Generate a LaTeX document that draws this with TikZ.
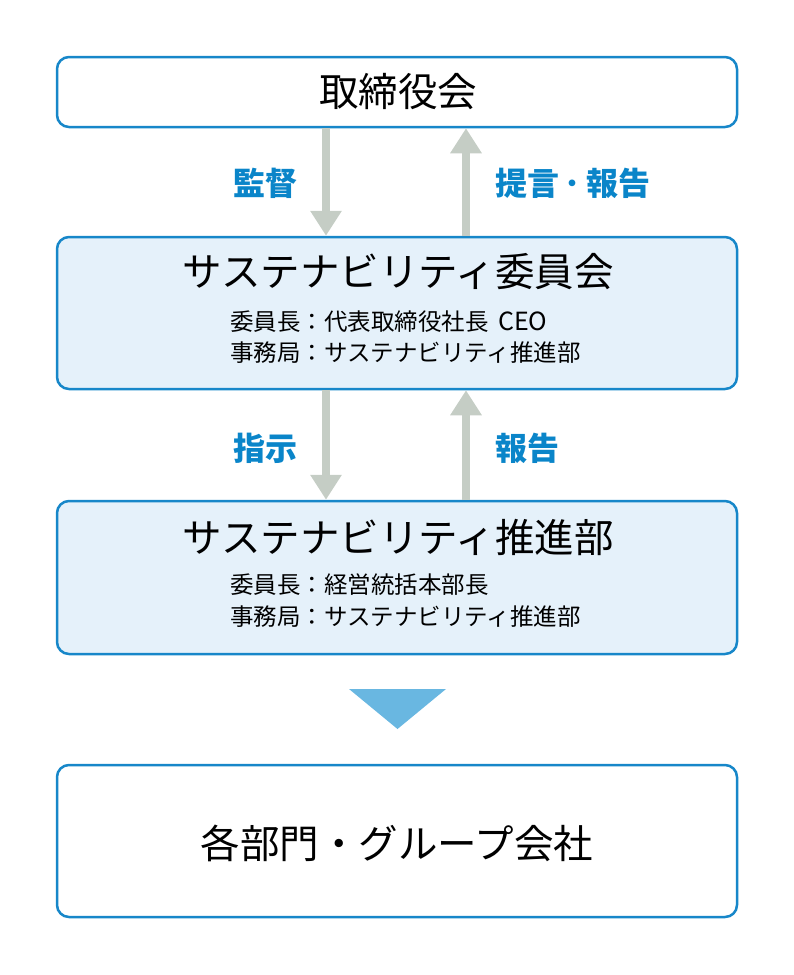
\documentclass[tikz,border=0pt]{standalone}
\usepackage{fontspec}
\setmainfont{Noto Sans CJK JP}
\usetikzlibrary{arrows.meta,positioning}
\definecolor{frameblue}{HTML}{1787C9}
\definecolor{paleblue}{HTML}{E5F1FA}
\definecolor{arrowgray}{HTML}{C5CDC5}
\definecolor{labelblue}{HTML}{0A85C9}
\definecolor{triblue}{HTML}{69B7E1}
\begin{document}
\begin{tikzpicture}[x=1pt,y=-1pt,
  box/.style={draw=frameblue,line width=2.5pt,rounded corners=12pt,minimum width=680pt,inner sep=0pt},
  title/.style={font=\fontsize{39.5}{41}\selectfont,inner sep=0pt},
  member/.style={font=\fontsize{23.5}{26}\selectfont,anchor=west,inner sep=0pt},
  tag/.style={text=labelblue,font=\fontsize{32}{34}\selectfont\bfseries,inner sep=0pt},
  flow/.style={draw=arrowgray,line width=8pt,-{Triangle[width=30pt,length=25pt]}}]
\useasboundingbox (0,0) rectangle (794,975);
% boxes
\node[box,fill=white,minimum height=70pt] (board) at (397,92) {};
\node[box,fill=paleblue,minimum height=152pt] (committee) at (397,313) {};
\node[box,fill=paleblue,minimum height=153pt] (office) at (397,577.5) {};
\node[box,fill=white,minimum height=152pt] (groups) at (397,841) {};
% texts
\node[title] (boardtitle) at (398,92) {取締役会};
\node[title] (committeetitle) at (398,272) {サステナビリティ委員会};
\node[member] (committeechair) at (230,322) {委員長：代表取締役社長\kern0.4em{\fontsize{25}{26}\selectfont CEO}};
\node[member] (committeesec) at (230,353) {事務局：サステナビリティ推進部};
\node[title] (officetitle) at (398,537) {サステナビリティ推進部};
\node[member] (officechair) at (230,585) {委員長：経営統括本部長};
\node[member] (officesec) at (230,617) {事務局：サステナビリティ推進部};
\node[title] (groupstitle) at (397,843) {各部門・グループ会社};
% arrows
\coordinate (down) at (326,0);
\coordinate (up) at (466,0);
\draw[flow] (board.south -| down) -- (committee.north -| down);
\draw[flow] (committee.north -| up) -- (board.south -| up);
\draw[flow] (committee.south -| down) -- (office.north -| down);
\draw[flow] (office.north -| up) -- (committee.south -| up);
\node[tag] (supervise) at (265,183) {監督};
\node[tag,anchor=west] (propose) at (495,183) {提言\kern0.18em･\kern0.18em報告};
\node[tag] (instruct) at (265,448) {指示};
\node[tag,anchor=west] (report) at (495,448) {報告};
% triangle
\fill[triblue] (349,689) -- (446,689) -- (397.5,729) -- cycle;
\end{tikzpicture}
\end{document}
